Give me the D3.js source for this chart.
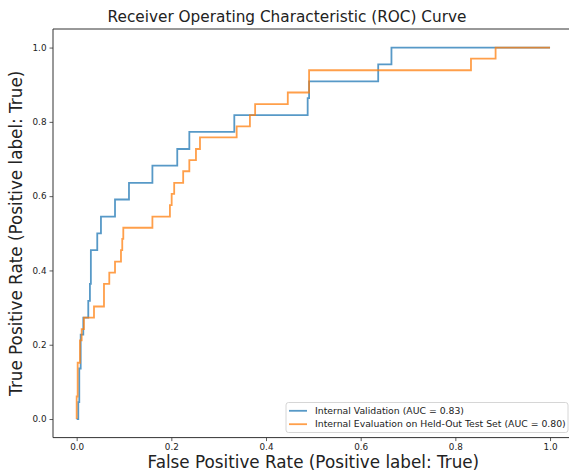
<!DOCTYPE html>
<html>
<head>
<meta charset="utf-8">
<script src="https://cdn.jsdelivr.net/npm/d3@7"></script>
<style>
  body { margin: 0; background: #fff; }
  svg { display: block; font-family: "DejaVu Sans", sans-serif; }
</style>
</head>
<body>
<div id="chart"></div>
<script>
"use strict";

// ROC points (fpr, tpr), drawn as steps
var seriesNames = ["Internal Validation (AUC = 0.83)",
	"Internal Evaluation on Held-Out Test Set (AUC = 0.80)"];
var seriesColors = ["#1f77b4", "#ff7f0e"];

var valFpr = [0, 0.0034, 0.0055, 0.0085, 0.014, 0.0245, 0.028, 0.030, 0.0435, 0.0513,
	0.081, 0.1105, 0.160, 0.2125, 0.238, 0.333, 0.488, 0.491, 0.637, 0.665, 1.0];
var valTpr = [0, 0.0455, 0.136, 0.227, 0.273, 0.318, 0.364, 0.4545, 0.5, 0.545,
	0.591, 0.636, 0.682, 0.727, 0.773, 0.818, 0.864, 0.909, 0.955, 1.0, 1.0];

var testFpr = [0, 0, 0.0021, 0.007, 0.0106, 0.0154, 0.0366, 0.0577, 0.0689, 0.081,
	0.0936, 0.0963, 0.0985, 0.160, 0.197, 0.2007, 0.206, 0.225, 0.238, 0.252,
	0.2605, 0.338, 0.366, 0.377, 0.446, 0.491, 0.833, 0.885, 1.0];
var testTpr = [0, 0.0606, 0.1515, 0.212, 0.242, 0.273, 0.303, 0.364, 0.394, 0.424,
	0.4545, 0.485, 0.515, 0.545, 0.576, 0.606, 0.636, 0.667, 0.697, 0.727,
	0.758, 0.788, 0.818, 0.848, 0.879, 0.939, 0.970, 1.0, 1.0];

var tickValues = [0, 0.2, 0.4, 0.6, 0.8, 1.0];

var width = 569, height = 474;
var plotLeft = 53, plotRight = 573.7, plotTop = 29, plotBottom = 437.6;

var svg = d3.select("#chart").append("svg")
	.attr("width", width)
	.attr("height", height);

var x = d3.scaleLinear().domain([-0.05, 1.05]).range([plotLeft, plotRight]);
var y = d3.scaleLinear().domain([-0.05, 1.05]).range([plotBottom, plotTop]);

// axes
var xAxis = svg.append("g")
	.attr("transform", "translate(0," + plotBottom + ")")
	.call(d3.axisBottom(x).tickValues(tickValues).tickFormat(d3.format(".1f")).tickSize(3.5).tickPadding(3));
var yAxis = svg.append("g")
	.attr("transform", "translate(" + plotLeft + ",0)")
	.call(d3.axisLeft(y).tickValues(tickValues).tickFormat(d3.format(".1f")).tickSize(3.5).tickPadding(3));

[xAxis, yAxis].forEach(function(a) {
	a.selectAll("text").attr("font-size", 8.8).attr("fill", "#222").attr("font-family", "DejaVu Sans");
	a.selectAll(".tick line").attr("stroke", "#333").attr("stroke-width", 0.8);
	a.select(".domain").remove();
});

// spines
svg.append("line").attr("x1", plotLeft).attr("x2", plotLeft).attr("y1", plotTop).attr("y2", plotBottom)
	.attr("stroke", "#333").attr("stroke-width", 1);
svg.append("line").attr("x1", plotLeft).attr("x2", width).attr("y1", plotTop).attr("y2", plotTop)
	.attr("stroke", "#333").attr("stroke-width", 1);
svg.append("line").attr("x1", plotLeft).attr("x2", width).attr("y1", plotBottom).attr("y2", plotBottom)
	.attr("stroke", "#333").attr("stroke-width", 1);

// curves
var line = d3.line()
	.x(function(d) { return x(d[0]); })
	.y(function(d) { return y(d[1]); })
	.curve(d3.curveStepAfter);

var curves = [d3.zip(valFpr, valTpr), d3.zip(testFpr, testTpr)];
curves.forEach(function(pts, i) {
	svg.append("path")
		.datum(pts)
		.attr("d", line)
		.attr("fill", "none")
		.attr("stroke", seriesColors[i])
		.attr("stroke-opacity", 0.75)
		.attr("stroke-width", 1.8);
});

// title and labels
svg.append("text")
	.attr("x", 287).attr("y", 22)
	.attr("text-anchor", "middle")
	.attr("font-size", 15.3).attr("fill", "#222")
	.text("Receiver Operating Characteristic (ROC) Curve");

svg.append("text")
	.attr("x", (plotLeft + plotRight) / 2).attr("y", 468)
	.attr("text-anchor", "middle")
	.attr("font-size", 16.8).attr("fill", "#222")
	.text("False Positive Rate (Positive label: True)");

svg.append("text")
	.attr("transform", "translate(22," + ((plotTop + plotBottom) / 2) + ") rotate(-90)")
	.attr("text-anchor", "middle")
	.attr("font-size", 16.8).attr("fill", "#222")
	.text("True Positive Rate (Positive label: True)");

// legend
var legend = svg.append("g").attr("transform", "translate(286,402.5)");
legend.append("rect")
	.attr("width", 282).attr("height", 30)
	.attr("rx", 2.5)
	.attr("fill", "#fff").attr("fill-opacity", 0.8)
	.attr("stroke", "#ccc").attr("stroke-width", 0.8);

seriesNames.forEach(function(name, i) {
	var row = legend.append("g").attr("transform", "translate(0," + (8.3 + i * 13.4) + ")");
	row.append("line")
		.attr("x1", 3).attr("x2", 21)
		.attr("stroke", seriesColors[i]).attr("stroke-opacity", 0.75).attr("stroke-width", 1.8);
	row.append("text")
		.attr("x", 29).attr("dy", "0.35em")
		.attr("font-size", 9.3).attr("fill", "#222")
		.text(name);
});
</script>
</body>
</html>
